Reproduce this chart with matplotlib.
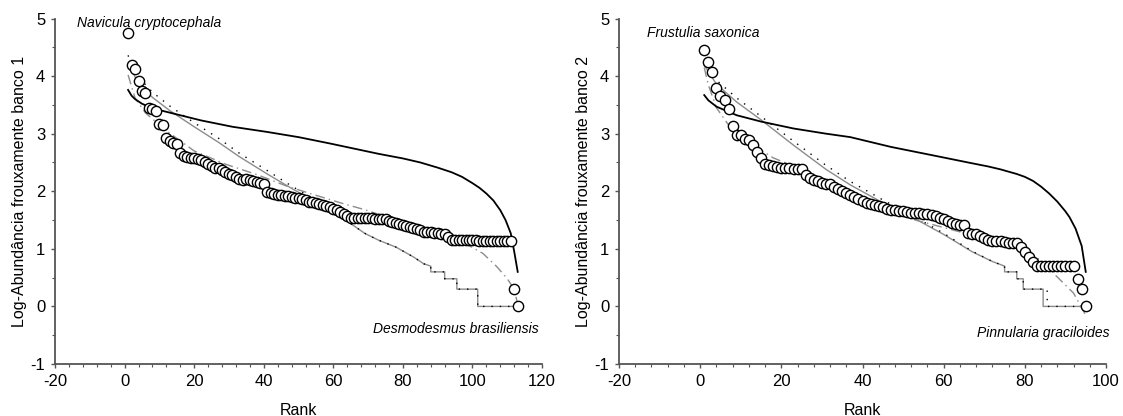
import numpy as np
import matplotlib
matplotlib.use("Agg")
import matplotlib.pyplot as plt

plt.rcParams['font.family'] = ['Liberation Sans', 'DejaVu Sans']
plt.rcParams['axes.unicode_minus'] = False

# ---- banco 1 : observed log-abundances (rank 1..113)
obs1 = [4.74, 4.19, 4.12, 3.92, 3.74, 3.70, 3.44, 3.42, 3.40, 3.16,
        3.15, 2.93, 2.88, 2.84, 2.82, 2.67, 2.62, 2.60, 2.58, 2.57,
        2.56, 2.54, 2.50, 2.47, 2.44, 2.41, 2.40, 2.37, 2.33, 2.30,
        2.28, 2.25, 2.22, 2.20, 2.21, 2.19, 2.17, 2.16, 2.15, 2.13,
        1.99, 1.97, 1.95, 1.94, 1.93, 1.92, 1.91, 1.90, 1.89, 1.88,
        1.86, 1.84, 1.82, 1.81, 1.80, 1.78, 1.76, 1.74, 1.72, 1.70,
        1.67, 1.64, 1.61, 1.57,
        1.54, 1.54, 1.54, 1.53, 1.53, 1.53, 1.53, 1.52, 1.52, 1.52, 1.51,
        1.48, 1.46, 1.45, 1.43, 1.41, 1.39, 1.38, 1.36, 1.34, 1.32,
        1.30, 1.30, 1.29, 1.28, 1.27, 1.26, 1.25, 1.20,
        1.16, 1.16, 1.15, 1.15, 1.15, 1.15, 1.15, 1.15, 1.14, 1.14,
        1.14, 1.14, 1.14, 1.14, 1.13, 1.13, 1.13, 1.13,
        0.30, 0.0]

# model curves banco 1 (rank, value)
bs1_r = [1, 2, 3, 5, 8, 12, 22, 31, 41, 50, 59, 66, 73, 80, 85, 90, 94, 97,
         100, 102, 104, 106, 108, 109.5, 111, 112, 113]
bs1_v = [3.76, 3.66, 3.60, 3.52, 3.44, 3.38, 3.23, 3.12, 3.03, 2.94, 2.83, 2.74,
         2.65, 2.57, 2.50, 2.41, 2.33, 2.25, 2.14, 2.06, 1.96, 1.84, 1.67, 1.50,
         1.27, 0.95, 0.60]

pre1_r = [1, 4, 8, 13, 20, 27, 33, 41, 48, 55, 60, 64, 69, 73, 78, 83, 86, 88,
          88, 92, 92, 95.5, 95.5, 101.5, 101.5, 113]
pre1_v = [4.22, 3.87, 3.63, 3.40, 3.12, 2.85, 2.60, 2.30, 2.05, 1.81, 1.64, 1.48,
          1.27, 1.15, 1.03, 0.86, 0.74, 0.70, 0.60, 0.60, 0.48, 0.48, 0.30, 0.30,
          0.0, 0.0]

ln1_r = [1, 3, 8, 13, 20, 27, 33, 41, 48, 55, 60, 64, 69, 73, 78, 83, 86,
         88, 88, 92, 92, 95.5, 95.5, 101.5, 101.5, 113]
ln1_v = [4.36, 4.05, 3.72, 3.48, 3.19, 2.92, 2.66, 2.36, 2.09, 1.85, 1.66, 1.48,
         1.27, 1.15, 1.03, 0.86, 0.74, 0.70, 0.60, 0.60, 0.48, 0.48, 0.30, 0.30,
         0.0, 0.0]

zm1_r = [1, 3, 6, 12, 20, 29, 38, 47, 55, 62, 69, 78, 86, 92, 98, 103, 107, 110, 112, 113]
zm1_v = [4.02, 3.62, 3.36, 3.05, 2.70, 2.47, 2.29, 2.08, 1.93, 1.80, 1.68, 1.50,
         1.36, 1.24, 1.09, 0.92, 0.69, 0.48, 0.30, 0.03]

# ---- banco 2 : observed log-abundances (rank 1..95)
obs2 = [4.45, 4.25, 4.07, 3.80, 3.65, 3.59, 3.42, 3.13, 2.98, 2.97,
        2.91, 2.89, 2.80, 2.69, 2.57, 2.48, 2.46, 2.43, 2.42, 2.41,
        2.40, 2.40, 2.39, 2.39, 2.38, 2.28, 2.23, 2.20, 2.17, 2.15,
        2.13, 2.12, 2.08, 2.04, 2.00,
        1.97, 1.94, 1.90, 1.86, 1.83, 1.80, 1.78, 1.76, 1.74, 1.72,
        1.70, 1.68, 1.67, 1.66, 1.65, 1.64, 1.63, 1.62, 1.62, 1.61,
        1.60, 1.59, 1.57, 1.54, 1.51, 1.48, 1.45, 1.43, 1.42, 1.42,
        1.28, 1.26, 1.25, 1.23, 1.18, 1.15, 1.14, 1.13, 1.13, 1.12,
        1.11, 1.11, 1.10, 1.04, 0.95, 0.85, 0.78,
        0.70, 0.70, 0.70, 0.70, 0.70, 0.70, 0.70, 0.70, 0.70, 0.70,
        0.48, 0.30, 0.0]

bs2_r = [1, 2, 4, 9, 15, 23, 31, 37, 47, 59, 66, 71, 74, 78, 80, 82, 84, 86,
         88, 90, 91, 92.5, 94, 95]
bs2_v = [3.67, 3.58, 3.47, 3.32, 3.21, 3.09, 3.00, 2.94, 2.77, 2.60, 2.50, 2.43,
         2.38, 2.30, 2.25, 2.18, 2.08, 1.96, 1.82, 1.65, 1.55, 1.35, 1.05, 0.60]

pre2_r = [1, 4, 9, 15, 23, 31, 37, 45, 53, 60, 67, 72, 75, 75, 78, 78, 79.6, 79.6,
          84.5, 84.5, 95]
pre2_v = [4.19, 3.86, 3.55, 3.24, 2.80, 2.38, 2.11, 1.80, 1.52, 1.25, 0.95, 0.78,
          0.70, 0.60, 0.60, 0.48, 0.48, 0.30, 0.30, 0.0, 0.0]

ln2_r = [1, 4, 9, 15, 23, 31, 37, 45, 53, 60, 67, 72, 75, 75, 78, 78, 79.6, 79.6,
         85.5, 85.5, 95]
ln2_v = [4.25, 3.93, 3.62, 3.30, 2.87, 2.45, 2.17, 1.85, 1.55, 1.27, 0.96, 0.78,
         0.70, 0.60, 0.60, 0.48, 0.48, 0.30, 0.30, 0.0, 0.0]

zm2_r = [1, 2, 4, 7, 12, 18, 25, 29.5, 36, 45, 53, 60, 70, 79.6, 84, 87, 92, 95.2]
zm2_v = [4.15, 3.85, 3.45, 3.15, 2.85, 2.58, 2.38, 2.20, 2.00, 1.75, 1.50, 1.37,
         1.18, 0.98, 0.80, 0.58, 0.23, -0.18]

panels = [
    dict(obs=obs1, bs=(bs1_r, bs1_v), pre=(pre1_r, pre1_v), ln=(ln1_r, ln1_v),
         zm=(zm1_r, zm1_v), xmax=120, ylabel='Log-Abundância frouxamente banco 1',
         top='Navicula cryptocephala', top_xy=(-13.7, 4.93),
         bot='Desmodesmus brasiliensis', bot_xy=(119, -0.39), left=0.049),
    dict(obs=obs2, bs=(bs2_r, bs2_v), pre=(pre2_r, pre2_v), ln=(ln2_r, ln2_v),
         zm=(zm2_r, zm2_v), xmax=100, ylabel='Log-Abundância frouxamente banco 2',
         top='Frustulia saxonica', top_xy=(-13.1, 4.75),
         bot='Pinnularia graciloides', bot_xy=(101, -0.46), left=0.5512),
]

fig = plt.figure(figsize=(11.23, 4.16), dpi=100)

for p in panels:
    ax = fig.add_axes([p['left'], 0.125, 0.4337, 0.8305])
    ranks = np.arange(1, len(p['obs']) + 1)

    ax.plot(*p['pre'], color='#8c8c8c', lw=1.0, zorder=2)
    ax.plot(*p['ln'], color='black', lw=1.0, ls=(0, (1, 5)), zorder=2)
    ax.plot(*p['zm'], color='#8c8c8c', lw=1.0, ls=(0, (7, 3, 1, 3)), zorder=2)
    ax.plot(*p['bs'], color='black', lw=1.3, zorder=2)
    ax.plot(ranks, p['obs'], 'o', ms=7.4, mfc='white', mec='black', mew=1.0,
            zorder=3)

    ax.text(*p['top_xy'], p['top'], style='italic', fontsize=10, ha='left',
            va='center')
    ax.text(*p['bot_xy'], p['bot'], style='italic', fontsize=10, ha='right',
            va='center')

    ax.set_xlim(-20, p['xmax'])
    ax.set_ylim(-1, 5)
    ax.set_xticks(np.arange(-20, p['xmax'] + 1, 20))
    ax.set_xticks(np.arange(-20, p['xmax'] + 1, 4), minor=True)
    ax.set_yticks(np.arange(-1, 6, 1))
    ax.set_yticks(np.arange(-1, 5.01, 0.5), minor=True)

    for s in ['top', 'right']:
        ax.spines[s].set_visible(False)
    for s in ['left', 'bottom']:
        ax.spines[s].set_color('#555555')
        ax.spines[s].set_linewidth(1.3)
    ax.tick_params(which='major', direction='out', length=3, width=1,
                   color='#555555', labelsize=12, pad=4)
    ax.tick_params(which='minor', direction='out', length=2, width=0.8,
                   color='#555555')

    ax.set_xlabel('Rank', fontsize=11.5, labelpad=10)
    ax.set_ylabel(p['ylabel'], fontsize=11.5, labelpad=2.5)

fig.savefig('out.png', dpi=100)
